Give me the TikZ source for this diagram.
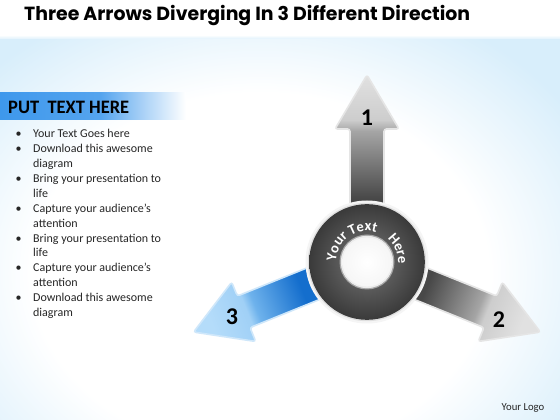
\documentclass[tikz,border=0pt]{standalone}
\usepackage{fontspec}
\setmainfont{Carlito}
\newfontfamily\titlefont{Poppins}
\usetikzlibrary{decorations.text}
\definecolor{bgblue}{RGB}{216,238,251}
\definecolor{barblue}{RGB}{62,152,236}
\definecolor{gdark}{RGB}{72,72,72}
\definecolor{gmid}{RGB}{165,165,165}
\definecolor{glight}{RGB}{205,205,205}
\definecolor{glighter}{RGB}{225,225,225}
\definecolor{bdark}{RGB}{20,110,205}
\definecolor{bmid}{RGB}{110,178,236}
\definecolor{blight}{RGB}{160,208,246}
\definecolor{blighter}{RGB}{180,220,250}
\pgfdeclareradialshading{bgshade}{\pgfpoint{0bp}{0bp}}{color(0bp)=(white); color(19bp)=(white); color(31bp)=(bgblue); color(100bp)=(bgblue)}
\pgfdeclarehorizontalshading{barshade}{100bp}{color(0bp)=(barblue); color(25bp)=(barblue); color(52bp)=(barblue!88!white); color(75bp)=(white); color(100bp)=(white)}
\pgfdeclarehorizontalshading{grayshade}{100bp}{color(0bp)=(gdark); color(42bp)=(gdark); color(60bp)=(gmid); color(63bp)=(glight); color(75bp)=(glighter); color(100bp)=(glighter)}
\pgfdeclarehorizontalshading{blueshade}{100bp}{color(0bp)=(bdark); color(44bp)=(bdark); color(60bp)=(bmid); color(63bp)=(blight); color(75bp)=(blighter); color(100bp)=(blighter)}
\tikzset{
  arrowedge/.style={draw=white!80!gray, line width=1.6pt, rounded corners=2.5pt},
  pics/grayarrow/.style={code={\shade[arrowedge, shading=grayshade, shading angle=#1] (0,-17) -- (133,-17) -- (133,-32) -- (187,0) -- (133,32) -- (133,17) -- (0,17) -- cycle;}},
  pics/bluearrow/.style={code={\shade[arrowedge, draw=blight!50!white, shading=blueshade, shading angle=#1] (0,-17) -- (133,-17) -- (133,-32) -- (187,0) -- (133,32) -- (133,17) -- (0,17) -- cycle;}},
  numlabel/.style={font=\bfseries\fontsize{24}{24}\selectfont, text=black},
  bullettext/.style={anchor=base west, inner sep=0pt, font=\fontsize{12}{14}\selectfont, text=black!85},
  ringtext/.style={decorate, decoration={text along path, text align=center, text color=white, text={#1}}}
}
\begin{document}
\begin{tikzpicture}[x=1pt,y=1pt]
\useasboundingbox (0,0) rectangle (560,420);
% background
\fill[white] (0,0) rectangle (560,420);
\shade[shading=bgshade] (-40,-90) rectangle (560,384);
\fill[white] (0,384) rectangle (560,420);
\shade[top color=white, bottom color=bgblue!80] (0,381) rectangle (560,385);
% title
\node[anchor=base west, inner sep=0pt] (title) at (24,399.5) {\resizebox{446pt}{\height}{\titlefont\bfseries\fontsize{19}{19}\selectfont Three Arrows Diverging In 3 Different Direction}};
% left panel
\shade[shading=barshade] (0,300) rectangle (186,327);
\node[anchor=base west, inner sep=0pt] (put) at (8,306) {\resizebox{121pt}{\height}{\bfseries\fontsize{19}{19}\selectfont PUT~~TEXT HERE}};
\foreach \t/\b [count=\i from 0] in {
  Your Text Goes here/1, Download this awesome/1, diagram/0,
  Bring your presentation to/1, life/0, Capture your audience’s/1, attention/0,
  Bring your presentation to/1, life/0, Capture your audience’s/1, attention/0,
  Download this awesome/1, diagram/0}{
  \node[bullettext] (line\i) at (33,{282.5-14.93*\i}) {\t};
  \ifnum\b=1 \node[bullettext] (bul\i) at (15.5,{282.5-14.93*\i}) {\textbullet};\fi
}
% arrows
\coordinate (c) at (367,158);
\pic[rotate=90] (a1) at (c) {grayarrow=90};
\pic[rotate=-22] (a2) at (c) {grayarrow=-22};
\pic[rotate=202] (a3) at (c) {bluearrow=202};
\node[numlabel] (n1) at (367,302) {1};
\node[numlabel] (n2) at (499,100) {2};
\node[numlabel] (n3) at (232,103) {3};
% ring
\fill[white!92!gray] (c) circle (61.5);
\fill[white!75!gray] (c) circle (59.2);
\shade[inner color={rgb,255:red,118;green,118;blue,118}, outer color={rgb,255:red,58;green,58;blue,58}] (c) circle (57.8);
\fill[gray!70] (c) circle (27.5);
\fill[white!85!gray] (c) circle (26.2);
\shade[inner color=white, outer color=white!93!gray] (c) circle (24.6);
\begin{scope}[shift={(c)}]
  \path[ringtext={|\bfseries\fontsize{14.5}{14.5}\selectfont|Your Text}] (190:31) arc[start angle=190, end angle=62, radius=31];
  \path[ringtext={|\bfseries\fontsize{14.5}{14.5}\selectfont|Here}] (57:31) arc[start angle=57, end angle=-12, radius=31];
\end{scope}
% logo
\node[anchor=base west, inner sep=0pt, font=\fontsize{10.7}{12}\selectfont, text=black!85] (logo) at (501.5,9.3) {Your Logo};
\end{tikzpicture}
\end{document}
